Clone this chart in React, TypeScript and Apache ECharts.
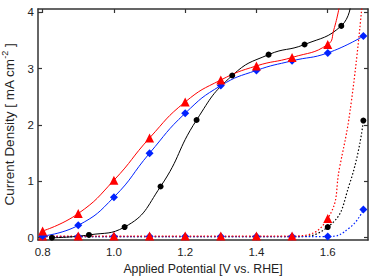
import React, { useEffect, useRef } from "react";
import * as echarts from "echarts";

// Data
const blackSolidX = [0.826, 0.93, 1.03, 1.131, 1.232, 1.332, 1.434, 1.535, 1.638];
const blackSolidY = [0.0, 0.05, 0.19, 0.91, 2.09, 2.88, 3.25, 3.43, 3.76];
const blackSolidTail = [[1.665, 4.15]];

const potentialX = [0.8, 0.9, 1.0, 1.1, 1.2, 1.3, 1.4, 1.5, 1.6];
const redSolidY = [0.12, 0.43, 1.02, 1.77, 2.41, 2.8, 3.05, 3.2, 3.43];
const redSolidTail = [[1.617, 3.69], [1.634, 4.15]];

const blueX = [0.8, 0.9, 1.0, 1.1, 1.2, 1.3, 1.4, 1.5, 1.6, 1.7];
const blueSolidY = [0.03, 0.22, 0.72, 1.5, 2.21, 2.7, 2.97, 3.14, 3.28, 3.58];

const redDottedY = [0.03, 0.03, 0.03, 0.03, 0.03, 0.03, 0.03, 0.03, 0.34];
const redDottedTail = [[1.634, 1.27], [1.667, 2.45], [1.7, 4.4]];

const blackDottedX = [0.8, 0.9, 1.0, 1.1, 1.2, 1.3, 1.4, 1.5, 1.6, 1.662, 1.7];
const blackDottedY = [0.02, 0.02, 0.02, 0.02, 0.02, 0.02, 0.02, 0.02, 0.19, 0.97, 2.08];
const blackDottedMarked = [false, false, false, false, false, false, false, false, true, false, true];

const blueDottedX = [0.8, 0.9, 1.0, 1.1, 1.2, 1.3, 1.4, 1.5, 1.6, 1.662, 1.7];
const blueDottedY = [0.02, 0.02, 0.02, 0.02, 0.02, 0.02, 0.02, 0.02, 0.02, 0.18, 0.5];
const blueDottedMarked = [true, true, true, true, true, true, true, true, true, false, true];

const xTicks = [0.8, 1.0, 1.2, 1.4, 1.6];
const yTicks = [0, 1, 2, 3, 4];

const RED = "#ff0000";
const BLUE = "#0022ff";
const BLACK = "#000000";
const FRAME = "#333333";
const FONT = "Liberation Sans";

export default function App() {
  const ref = useRef<HTMLDivElement>(null);
  useEffect(() => {
    if (!ref.current) return;
    const chart = echarts.init(ref.current, null, { renderer: "svg" });

    const pairs = (xs: number[], ys: number[]) => xs.map((x, i) => [x, ys[i]]);
    const noSym = (pts: number[][]) => pts.map((p) => ({ value: p, symbol: "none" }));
    const marked = (xs: number[], ys: number[], m: boolean[]) =>
      xs.map((x, i) => (m[i] ? [x, ys[i]] : { value: [x, ys[i]], symbol: "none" }));

    const common = {
      type: "line",
      smooth: 0.5,
      xAxisIndex: 0,
      yAxisIndex: 0,
      clip: true,
    };

    const axisLineStyle = { lineStyle: { color: FRAME, width: 1.5 } };
    const tickStyle = { inside: true, length: 4, lineStyle: { color: FRAME, width: 1.2 } };

    chart.setOption({
      animation: false,
      grid: { left: 38, top: 9, right: 24, bottom: 37, containLabel: false, outerBoundsMode: "none" },
      xAxis: [
        {
          type: "value",
          min: 0.787,
          max: 1.713,
          position: "bottom",
          axisLine: { show: true, onZero: false, ...axisLineStyle },
          axisTick: { ...tickStyle, customValues: xTicks },
          axisLabel: {
            customValues: xTicks,
            formatter: (v: number) => v.toFixed(1),
            color: "#222",
            fontSize: 11.5,
            fontFamily: FONT,
            margin: 6,
          },
          splitLine: { show: false },
          name: "Applied Potential [V vs. RHE]",
          nameLocation: "middle",
          nameGap: 23,
          nameTextStyle: { color: "#222", fontSize: 12.3, fontFamily: FONT },
        },
        {
          type: "value",
          min: 0.787,
          max: 1.713,
          position: "top",
          axisLine: { show: true, onZero: false, ...axisLineStyle },
          axisTick: { ...tickStyle, customValues: xTicks },
          axisLabel: { show: false },
          splitLine: { show: false },
        },
      ],
      yAxis: [
        {
          type: "value",
          min: -0.04,
          max: 4.06,
          position: "left",
          axisLine: { show: true, onZero: false, ...axisLineStyle },
          axisTick: { ...tickStyle, customValues: yTicks },
          axisLabel: {
            customValues: yTicks,
            formatter: (v: number) => String(Math.round(v)),
            color: "#222",
            fontSize: 11.5,
            fontFamily: FONT,
            margin: 4,
          },
          splitLine: { show: false },
          name: "{t|Current Density [ mA cm}{s|-2}{t| ]}",
          nameLocation: "middle",
          nameGap: 12,
          nameTextStyle: {
            color: "#222",
            fontFamily: FONT,
            rich: {
              t: { fontSize: 13.5, fontFamily: FONT, color: "#222", lineHeight: 18 },
              s: { fontSize: 9, fontFamily: FONT, color: "#222", verticalAlign: "top", lineHeight: 18, padding: [0, 0, 7, 0] },
            },
          },
        },
        {
          type: "value",
          min: -0.04,
          max: 4.06,
          position: "right",
          axisLine: { show: true, onZero: false, ...axisLineStyle },
          axisTick: { ...tickStyle, customValues: yTicks },
          axisLabel: { show: false },
          splitLine: { show: false },
        },
      ],
      series: [
        {
          ...common,
          name: "black dotted",
          data: marked(blackDottedX, blackDottedY, blackDottedMarked),
          symbol: "circle",
          symbolSize: 6,
          itemStyle: { color: BLACK },
          lineStyle: { color: BLACK, width: 1.2, type: [1.5, 2] },
        },
        {
          ...common,
          name: "blue dotted",
          data: marked(blueDottedX, blueDottedY, blueDottedMarked),
          symbol: "diamond",
          symbolSize: 8,
          itemStyle: { color: BLUE },
          lineStyle: { color: BLUE, width: 1.2, type: [1.5, 2] },
        },
        {
          ...common,
          name: "red dotted",
          data: [...pairs(potentialX, redDottedY), ...noSym(redDottedTail)],
          symbol: "triangle",
          symbolSize: 9,
          itemStyle: { color: RED },
          lineStyle: { color: RED, width: 1.2, type: [1.5, 2] },
        },
        {
          ...common,
          name: "black solid",
          data: [...pairs(blackSolidX, blackSolidY), ...noSym(blackSolidTail)],
          symbol: "circle",
          symbolSize: 6,
          itemStyle: { color: BLACK },
          lineStyle: { color: BLACK, width: 1 },
        },
        {
          ...common,
          name: "blue solid",
          data: pairs(blueX, blueSolidY),
          symbol: "diamond",
          symbolSize: 8,
          itemStyle: { color: BLUE },
          lineStyle: { color: BLUE, width: 1 },
        },
        {
          ...common,
          name: "red solid",
          data: [...pairs(potentialX, redSolidY), ...noSym(redSolidTail)],
          symbol: "triangle",
          symbolSize: 9,
          itemStyle: { color: RED },
          lineStyle: { color: RED, width: 1 },
        },
      ],
    });
    return () => chart.dispose();
  }, []);

  return (
    <div
      ref={ref}
      style={{ position: "fixed", left: 0, top: 0, width: 392, height: 277, background: "#fff" }}
    />
  );
}
